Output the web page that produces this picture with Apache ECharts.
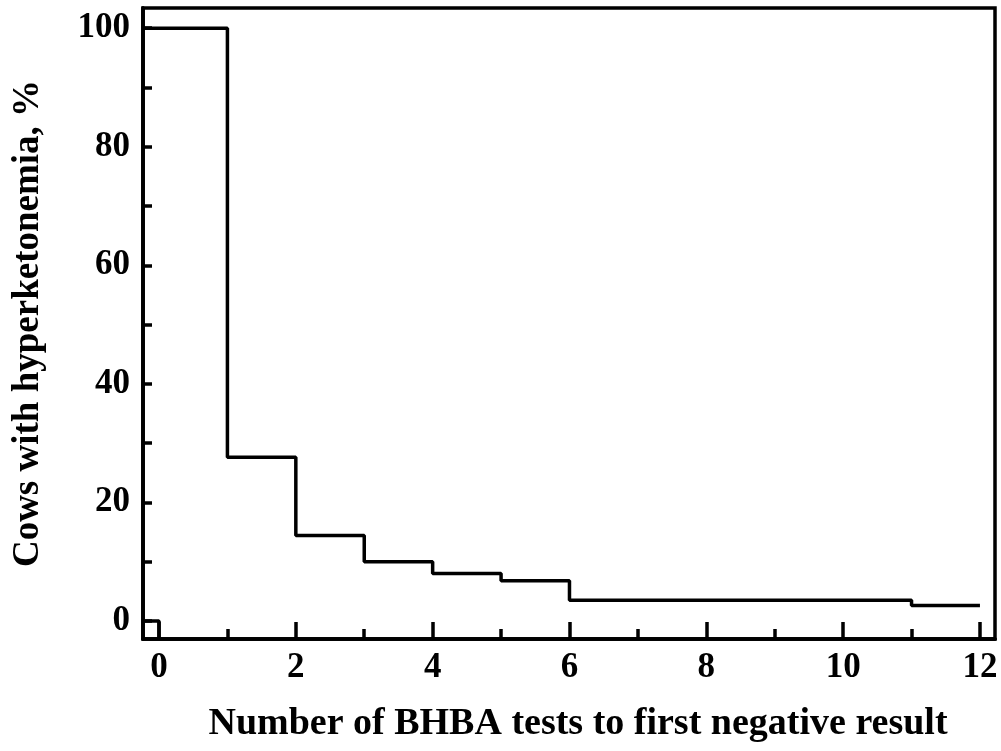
<!DOCTYPE html>
<html><head><meta charset="utf-8">
<script src="https://cdn.jsdelivr.net/npm/echarts@6/dist/echarts.min.js"></script>
<style>html,body{margin:0;padding:0;background:#fff}#c{width:1001px;height:751px}</style>
</head><body><div id="c"></div>
<script>
const xTitle = 'Number of BHBA tests to first negative result';
const yTitle = 'Cows with hyperketonemia, %';
const xMajorTicks = [0, 2, 4, 6, 8, 10, 12];
const xMinorTicks = [1, 3, 5, 7, 9, 11];
const yMajorTicks = [0, 20, 40, 60, 80, 100];
const yMinorTicks = [10, 30, 50, 70, 90];
const stepTimes = [1, 2, 3, 4, 5, 6, 11, 12];
const stepLevels = [27.6, 14.4, 10.0, 8.0, 6.8, 3.5, 2.6, 2.6];
const startLevel = 100;
const X_MIN = -0.234, X_MAX = 12.22, Y_MIN = -3.04, Y_MAX = 103.4;

const mainData = [[X_MIN, startLevel]];
stepTimes.forEach((t, i) => mainData.push([t, stepLevels[i]]));
const zeroData = [[X_MIN, 0], [0, 0], [0, Y_MIN]];

const font = '"Liberation Serif", "Times New Roman", serif';
const LW = 3.5;
const lbl = {fontFamily: font, fontWeight: 'bold', fontSize: 35, color: '#000'};
function xa(ticks, len, labels) {
  return {type: 'value', min: X_MIN, max: X_MAX, position: 'bottom',
    axisLine: {show: true, onZero: false, lineStyle: {color: '#000', width: LW}},
    axisTick: {show: true, inside: true, length: len, customValues: ticks, lineStyle: {color: '#000', width: LW}},
    axisLabel: labels ? Object.assign({show: true, margin: 11, customValues: ticks}, lbl) : {show: false},
    splitLine: {show: false}};
}
function ya(ticks, len, labels) {
  return {type: 'value', min: Y_MIN, max: Y_MAX, position: 'left',
    axisLine: {show: true, onZero: false, lineStyle: {color: '#000', width: LW}},
    axisTick: {show: true, inside: true, length: len, customValues: ticks, lineStyle: {color: '#000', width: LW}},
    axisLabel: labels ? Object.assign({show: true, margin: 13, customValues: ticks}, lbl) : {show: false},
    splitLine: {show: false}};
}
const xMain = xa(xMajorTicks, 17, true);
xMain.name = xTitle; xMain.nameLocation = 'middle'; xMain.nameGap = 66;
xMain.nameTextStyle = {fontFamily: font, fontWeight: 'bold', fontSize: 38, color: '#000', padding: [0, 0, 0, 18]};
const yMain = ya(yMajorTicks, 9, true);
yMain.name = yTitle; yMain.nameLocation = 'middle'; yMain.nameGap = 96;
yMain.nameTextStyle = {fontFamily: font, fontWeight: 'bold', fontSize: 37, color: '#000'};

const chart = echarts.init(document.getElementById('c'), null, {renderer: 'canvas'});
chart.setOption({
  animation: false,
  grid: {left: 143, top: 8, right: 6, bottom: 112, show: true, borderColor: '#000', borderWidth: LW, backgroundColor: 'transparent'},
  xAxis: [xMain, xa(xMinorTicks, 10, false)],
  yAxis: [yMain, ya(yMinorTicks, 9, false)],
  series: [
    {type: 'line', step: 'end', data: mainData, symbol: 'none', clip: true,
     lineStyle: {color: '#000', width: LW}},
    {type: 'line', data: zeroData, symbol: 'none', clip: true,
     lineStyle: {color: '#000', width: LW}}
  ]
});
</script></body></html>
